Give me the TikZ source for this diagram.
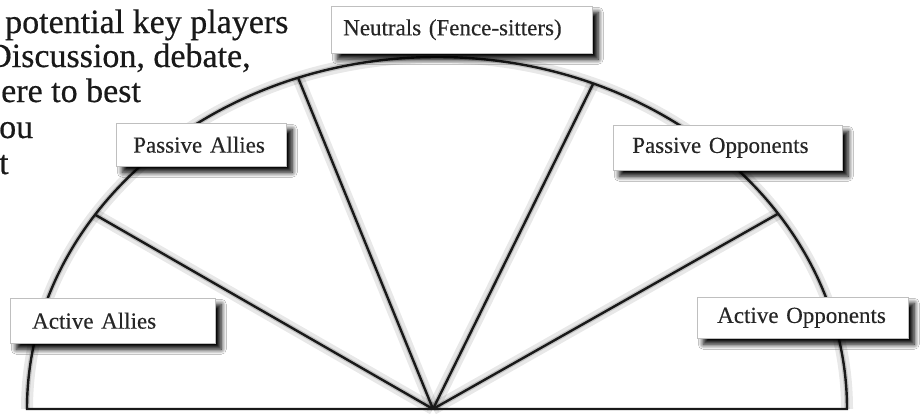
\documentclass[tikz,border=0pt]{standalone}
\usepackage{fontspec}
\setmainfont{Liberation Serif}
\newfontfamily\heavyserif{Liberation Serif}[FakeBold=0.5]
\newfontfamily\boxserif{Liberation Serif}[FakeBold=0.3]
\usetikzlibrary{shadows.blur}
\begin{document}
\begin{tikzpicture}[x=1pt,y=-1pt,
  lbl/.style={draw=black!25, line width=0.5pt, fill=white, anchor=north west,
    align=left, inner ysep=0pt, text=black!85,
    font=\boxserif\fontsize{23}{25}\selectfont,
    blur shadow={shadow xshift=6pt, shadow yshift=-6pt, shadow blur radius=5pt,
      shadow opacity=100, shadow blur steps=8}},
  ray/.style={line width=2.4pt, draw=black!90},
  raysha/.style={line width=12pt, draw=black, opacity=0.09},
  rayshb/.style={line width=5pt, draw=black, opacity=0.15},
  toptext/.style={anchor=base west, inner sep=0pt, text=black!90,
    font=\heavyserif\fontsize{34}{36}\selectfont}]
\useasboundingbox[fill=white] (0,0) rectangle (920,413);
\begin{scope}
\clip (0,0) rectangle (920,413);
% geometry
\coordinate (O) at (433,409);
\coordinate (E) at (437,409);
\coordinate (L) at (27,409);
\coordinate (R) at (847,409);
\path (E) ++(-146.5:410 and 352) coordinate (pA);
\path (E) ++(-109.8:410 and 352) coordinate (pB);
\path (E) ++(-67.6:410 and 352) coordinate (pC);
\path (E) ++(-33.7:410 and 352) coordinate (pD);
% shadows of the lines
\begin{scope}[shift={(6,5)}]
  \foreach \s in {raysha,rayshb}{
    \draw[\s] (L) arc[start angle=180, end angle=360, x radius=410, y radius=352];
    \draw[\s] (O) -- (pA);
    \draw[\s] (O) -- (pB);
    \draw[\s] (O) -- (pC);
    \draw[\s] (O) -- (pD);
  }
\end{scope}
% semicircle and rays
\draw[ray] (L) arc[start angle=180, end angle=360, x radius=410, y radius=352] -- cycle;
\draw[ray] (O) -- (pA);
\draw[ray] (O) -- (pB);
\draw[ray] (O) -- (pC);
\draw[ray] (O) -- (pD);
% top-left text (cropped page text)
\node[toptext] (t1) at (5,33) {potential key players};
\node[toptext] (t2) at (-13,67) {Discussion, debate,};
\node[toptext] (t3) at (1,102) {ere to best};
\node[toptext] (t4) at (-1,138) {ou};
\node[toptext] (t5) at (-1,174) {t};
% labels
\node[lbl, inner xsep=12pt, text width=237pt, minimum height=47pt] (neu) at (331,6) {\mbox{Neutrals (Fence-sitters)}};
\node[lbl, inner xsep=17pt, text width=136pt, minimum height=43pt] (pal) at (116,123) {\mbox{Passive Allies}};
\node[lbl, inner xsep=19pt, text width=191pt, minimum height=45pt] (pop) at (613,125) {\mbox{Passive Opponents}};
\node[lbl, inner xsep=22pt, text width=161pt, minimum height=45pt] (aal) at (10,298) {\mbox{Active Allies}};
\node[lbl, inner xsep=20pt, text width=171pt, minimum height=41pt] (aop) at (697,297) {\mbox{Active Opponents}};
\end{scope}
\end{tikzpicture}
\end{document}
